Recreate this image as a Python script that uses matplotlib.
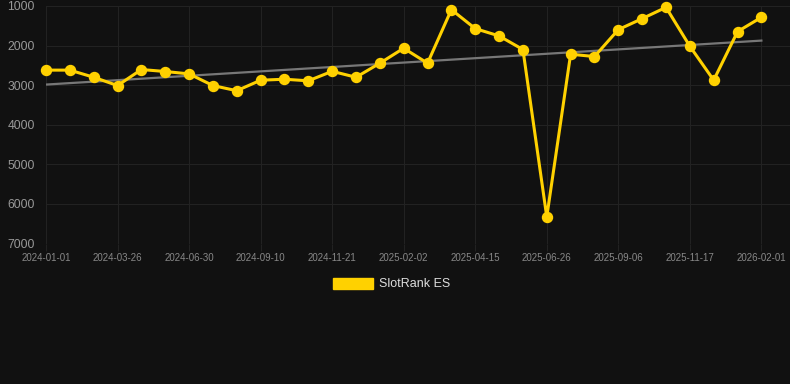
import numpy as np
import matplotlib
matplotlib.use("Agg")
import matplotlib.pyplot as plt
from matplotlib.patches import Patch

# rank values, one per point (y axis is inverted: lower rank = better)
tick_labels = ['2024-01-01', '2024-03-26', '2024-06-30', '2024-09-10', '2024-11-21',
               '2025-02-02', '2025-04-15', '2025-06-26', '2025-09-06', '2025-11-17',
               '2026-02-01']
ranks = [2620, 2620, 2800, 3010, 2605, 2655, 2715, 3010, 3140, 2875,
         2850, 2890, 2650, 2800, 2445, 2067, 2445, 1092, 1571, 1756,
         2100, 6328, 2218, 2277, 1597, 1319, 1034, 2017, 2874, 1647,
         1286]
series_name = 'SlotRank ES'

bg = '#111111'
grid_c = '#222222'
yellow = '#FFD100'

x = np.arange(len(ranks))
ranks = np.array(ranks)

fig = plt.figure(figsize=(7.9, 3.84), dpi=100, facecolor=bg)
ax = fig.add_axes([46/790, 1 - 243.5/384, 1 - 46/790, 237.5/384])
ax.set_facecolor(bg)

# trend line
k, b = np.polyfit(x, ranks, 1)
ax.plot([x[0], x[-1]], [b, k * x[-1] + b], color='#777777', lw=1.6, zorder=2)

ax.plot(x, ranks, color=yellow, lw=2.2, marker='o', markersize=7.2,
        solid_joinstyle='miter', zorder=3, clip_on=False)

ax.set_xlim(0, 31.2)
ax.set_ylim(7000, 1000)
ax.set_yticks([1000, 2000, 3000, 4000, 5000, 6000, 7000])
ax.set_xticks(x[::3])
ax.set_xticklabels(tick_labels)

ax.grid(True, color=grid_c, lw=0.8)
for s in ax.spines.values():
    s.set_visible(False)
ax.tick_params(axis='x', colors=grid_c, length=5, labelcolor='#888888',
               labelsize=7, pad=2)
ax.tick_params(axis='y', length=0, labelcolor='#999999', labelsize=8.7, pad=8)
for lab in ax.get_xticklabels() + ax.get_yticklabels():
    lab.set_family('Liberation Sans')

leg = fig.legend(handles=[Patch(color=yellow, label=series_name)], loc='center',
                 bbox_to_anchor=(0.496, 1 - 284/384), frameon=False,
                 handlelength=3.2, handleheight=1.0, handletextpad=0.5,
                 prop={'family': 'Liberation Sans', 'size': 9})
for t in leg.get_texts():
    t.set_color('#dddddd')

fig.savefig('out.png', dpi=100, facecolor=bg)
